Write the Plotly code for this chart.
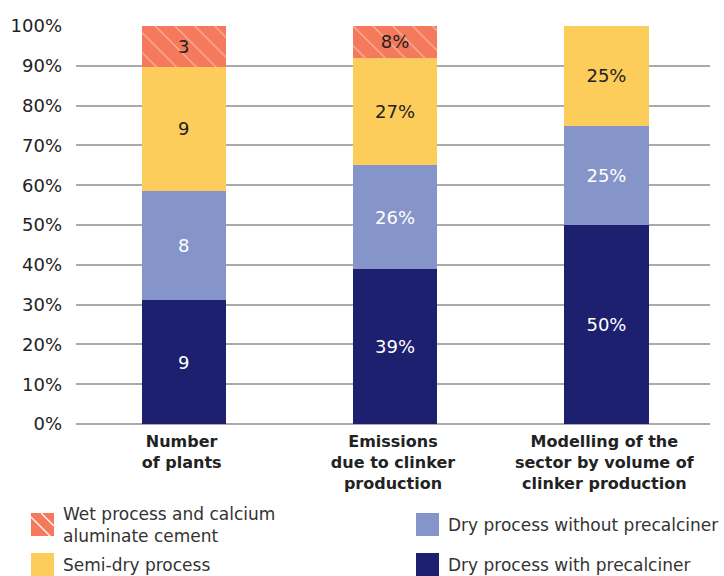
import plotly.graph_objects as go

categories = ["<b>Number</b><br><b>of plants</b>",
              "<b>Emissions</b><br><b>due to clinker</b><br><b>production</b>",
              "<b>Modelling of the</b><br><b>sector by volume of</b><br><b>clinker production</b>"]

series_names = ["Dry process with precalciner",
                "Dry process without precalciner",
                "Semi-dry process",
                "Wet process and calcium<br>aluminate cement"]

dry_with = [9, 39, 50]
dry_without = [8, 26, 25]
semi_dry = [9, 27, 25]
wet = [3, 8, 0]

dry_with_text = ["9", "39%", "50%"]
dry_without_text = ["8", "26%", "25%"]
semi_dry_text = ["9", "27%", "25%"]
wet_text = ["3", "8%", ""]

colors = ["#1d1f6f", "#8595c9", "#fccd5b", "#f47a5b"]
text_colors = ["white", "white", "#222222", "#222222"]

FONT = "DejaVu Sans"
W, H = 724, 576
L, R, T, B = 76, 14, 26, 152

fig = go.Figure()
vals = [dry_with, dry_without, semi_dry, wet]
texts = [dry_with_text, dry_without_text, semi_dry_text, wet_text]
for i in range(4):
    marker = dict(color=colors[i], line=dict(width=0))
    if i == 3:
        marker["pattern"] = dict(shape="\\", fgcolor="white", bgcolor=colors[i],
                                 size=14, solidity=0.08, fillmode="overlay")
    fig.add_trace(go.Bar(
        x=categories, y=vals[i], name=series_names[i],
        text=texts[i], textposition="inside", insidetextanchor="middle",
        textfont=dict(color=text_colors[i], size=18, family=FONT),
        marker=marker, width=0.4, offset=-0.19, showlegend=False,
        hoverinfo="skip",
    ))

# manual legend (pixel positions converted to paper coords)
pw, ph = W - L - R, H - T - B
def px(x):
    return (x - L) / pw
def py(y):
    return (H - B - y) / ph

legend_pos = [(416, 553), (416, 513), (31, 553), (31, 513)]  # swatch top-left
shapes = []
annotations = []
for i in range(4):
    x0, y0 = legend_pos[i]
    shapes.append(dict(type="rect", xref="paper", yref="paper",
                       x0=px(x0), x1=px(x0 + 23), y0=py(y0 + 23), y1=py(y0),
                       fillcolor=colors[i], line=dict(width=0), layer="above"))
    if i == 3:
        for (ax, ay, bx, by) in [(x0, y0 + 4, x0 + 19, y0 + 23),
                                 (x0 + 10, y0, x0 + 23, y0 + 13)]:
            shapes.append(dict(type="line", xref="paper", yref="paper",
                               x0=px(ax), y0=py(ay), x1=px(bx), y1=py(by),
                               line=dict(color="white", width=1.2), layer="above"))
    annotations.append(dict(xref="paper", yref="paper",
                            x=px(x0 + 30), y=py(y0 + 12),
                            xanchor="left", yanchor="middle", align="left",
                            text=series_names[i], showarrow=False,
                            font=dict(size=17, color="#333333", family=FONT)))

fig.update_layout(
    barmode="stack", barnorm="percent",
    width=W, height=H,
    margin=dict(l=L, r=R, t=T, b=B, autoexpand=False),
    plot_bgcolor="white", paper_bgcolor="white",
    font=dict(family=FONT, color="#222222"),
    showlegend=False,
    shapes=shapes, annotations=annotations,
)
fig.update_yaxes(range=[0, 100], dtick=10, ticksuffix="%",
                 showgrid=True, gridcolor="#aaaaaa", gridwidth=1.5,
                 zeroline=True, zerolinecolor="#aaaaaa", zerolinewidth=1.5,
                 tickfont=dict(size=18, color="#222222", family=FONT),
                 ticklabelstandoff=13, showline=False, automargin=False)
fig.update_xaxes(tickfont=dict(size=16, color="#222222", family=FONT), showline=False,
                 ticklabelstandoff=6, automargin=False)

fig.write_html("out.html")
